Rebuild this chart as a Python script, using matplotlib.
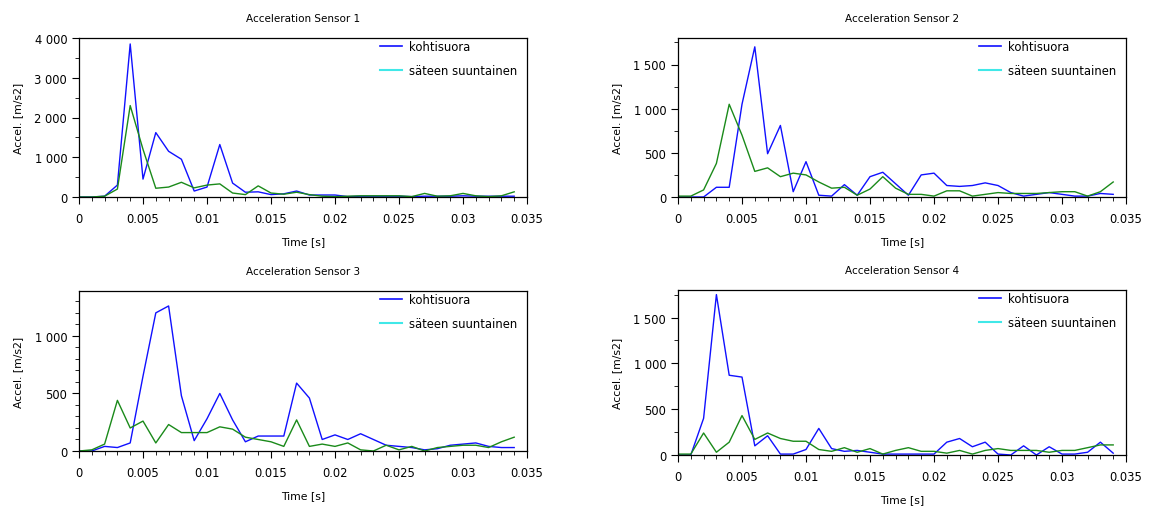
import numpy as np
import matplotlib
matplotlib.use("Agg")
import matplotlib.pyplot as plt
from matplotlib.lines import Line2D
from matplotlib.ticker import MultipleLocator, FuncFormatter

# time base, one sample per millisecond
t = np.arange(35) * 0.001

# sensor 1
s1_kohti = [0, 0, 20, 300, 3850, 450, 1620, 1150, 950, 150, 250, 1320, 350, 120, 130, 60, 80, 150,
            50, 50, 50, 10, 20, 20, 20, 20, 10, 20, 20, 20, 30, 20, 20, 20, 20]
s1_sade = [0, 0, 20, 200, 2300, 1200, 220, 250, 370, 230, 300, 330, 100, 60, 280, 100, 70, 120,
           60, 20, 10, 20, 30, 30, 30, 30, 10, 90, 20, 30, 90, 30, 10, 30, 130]

# sensor 2
s2_kohti = [0, 0, 0, 110, 110, 1050, 1700, 490, 810, 60, 400, 20, 10, 140, 20, 230, 280, 150,
            20, 250, 270, 130, 120, 130, 160, 130, 50, 10, 30, 50, 30, 10, 10, 40, 30]
s2_sade = [10, 10, 80, 380, 1050, 700, 290, 330, 230, 270, 250, 170, 100, 110, 20, 90, 230, 100,
           30, 30, 10, 70, 70, 10, 30, 50, 40, 40, 40, 50, 60, 60, 10, 60, 170]

# sensor 3
s3_kohti = [0, 0, 40, 30, 70, 650, 1200, 1260, 480, 90, 280, 500, 270, 80, 130, 130, 130, 590,
            460, 100, 140, 100, 150, 100, 50, 40, 30, 10, 20, 50, 60, 70, 40, 30, 30]
s3_sade = [0, 10, 60, 440, 200, 260, 70, 230, 160, 160, 160, 210, 190, 120, 100, 80, 40, 270,
           40, 60, 40, 70, 10, 0, 50, 10, 40, 0, 30, 40, 50, 50, 30, 80, 120]

# sensor 4
s4_kohti = [0, 0, 400, 1750, 870, 850, 100, 210, 10, 10, 60, 290, 70, 40, 50, 30, 10, 10,
            10, 10, 10, 140, 180, 90, 140, 10, 0, 100, 0, 90, 10, 10, 30, 140, 20]
s4_sade = [10, 10, 240, 30, 140, 430, 170, 240, 180, 150, 150, 60, 40, 80, 30, 70, 10, 50,
           80, 40, 40, 20, 50, 10, 50, 70, 50, 50, 50, 30, 50, 50, 80, 110, 110]

titles = ["Acceleration Sensor 1", "Acceleration Sensor 2", "Acceleration Sensor 3", "Acceleration Sensor 4"]
kohti = [s1_kohti, s2_kohti, s3_kohti, s4_kohti]
sade = [s1_sade, s2_sade, s3_sade, s4_sade]
ymax = [4000, 1800, 1390, 1800]
ymajor = [1000, 500, 500, 500]
yminor = [500, 250, 100, 250]

W, H = 1151, 510
# axes boxes in pixels: left, top, right, bottom
boxes = [(79, 39, 527, 198), (678, 39, 1126, 198), (79, 292, 527, 452), (678, 291, 1126, 456)]

plt.rcParams["font.family"] = "DejaVu Sans"
fig = plt.figure(figsize=(W / 100, H / 100), dpi=100)

def thousands(v, pos):
    return f"{v:,.0f}".replace(",", " ")

for i in range(4):
    l, tp, r, b = boxes[i]
    ax = fig.add_axes([l / W, 1 - b / H, (r - l) / W, (b - tp) / H])
    ax.plot(t, kohti[i], color="#1010ff", lw=1.0)
    ax.plot(t, sade[i], color="#1a8a1a", lw=1.0)
    ax.set_xlim(0, 0.035)
    ax.set_ylim(0, ymax[i])
    ax.xaxis.set_major_locator(MultipleLocator(0.005))
    ax.xaxis.set_minor_locator(MultipleLocator(0.001))
    ax.yaxis.set_major_locator(MultipleLocator(ymajor[i]))
    ax.yaxis.set_minor_locator(MultipleLocator(yminor[i]))
    ax.xaxis.set_major_formatter(FuncFormatter(lambda v, p: "0" if abs(v) < 1e-9 else f"{v:g}"))
    ax.yaxis.set_major_formatter(FuncFormatter(thousands))
    ax.tick_params(which="major", direction="out", length=5, width=0.8, labelsize=8.3)
    ax.tick_params(axis="x", which="major", pad=6)
    ax.tick_params(which="minor", direction="out", length=3, width=0.6)
    for s in ax.spines.values():
        s.set_linewidth(0.9)
    ax.set_title(titles[i], fontsize=7.5, pad=12)
    ax.set_xlabel("Time [s]", fontsize=7.8, labelpad=8)
    ax.set_ylabel("Accel. [m/s2]", fontsize=7.8, labelpad=8)
    handles = [Line2D([], [], color="#1010ff", lw=1.2), Line2D([], [], color="#40e8e8", lw=1.5)]
    ax.legend(handles, ["kohtisuora", "säteen suuntainen"], loc="upper right", frameon=False,
              bbox_to_anchor=(0.983, 1.0), fontsize=8.4, handlelength=1.9, handletextpad=0.6,
              labelspacing=0.95, borderaxespad=0.0, borderpad=0.2)

fig.savefig("out.png", dpi=100)
